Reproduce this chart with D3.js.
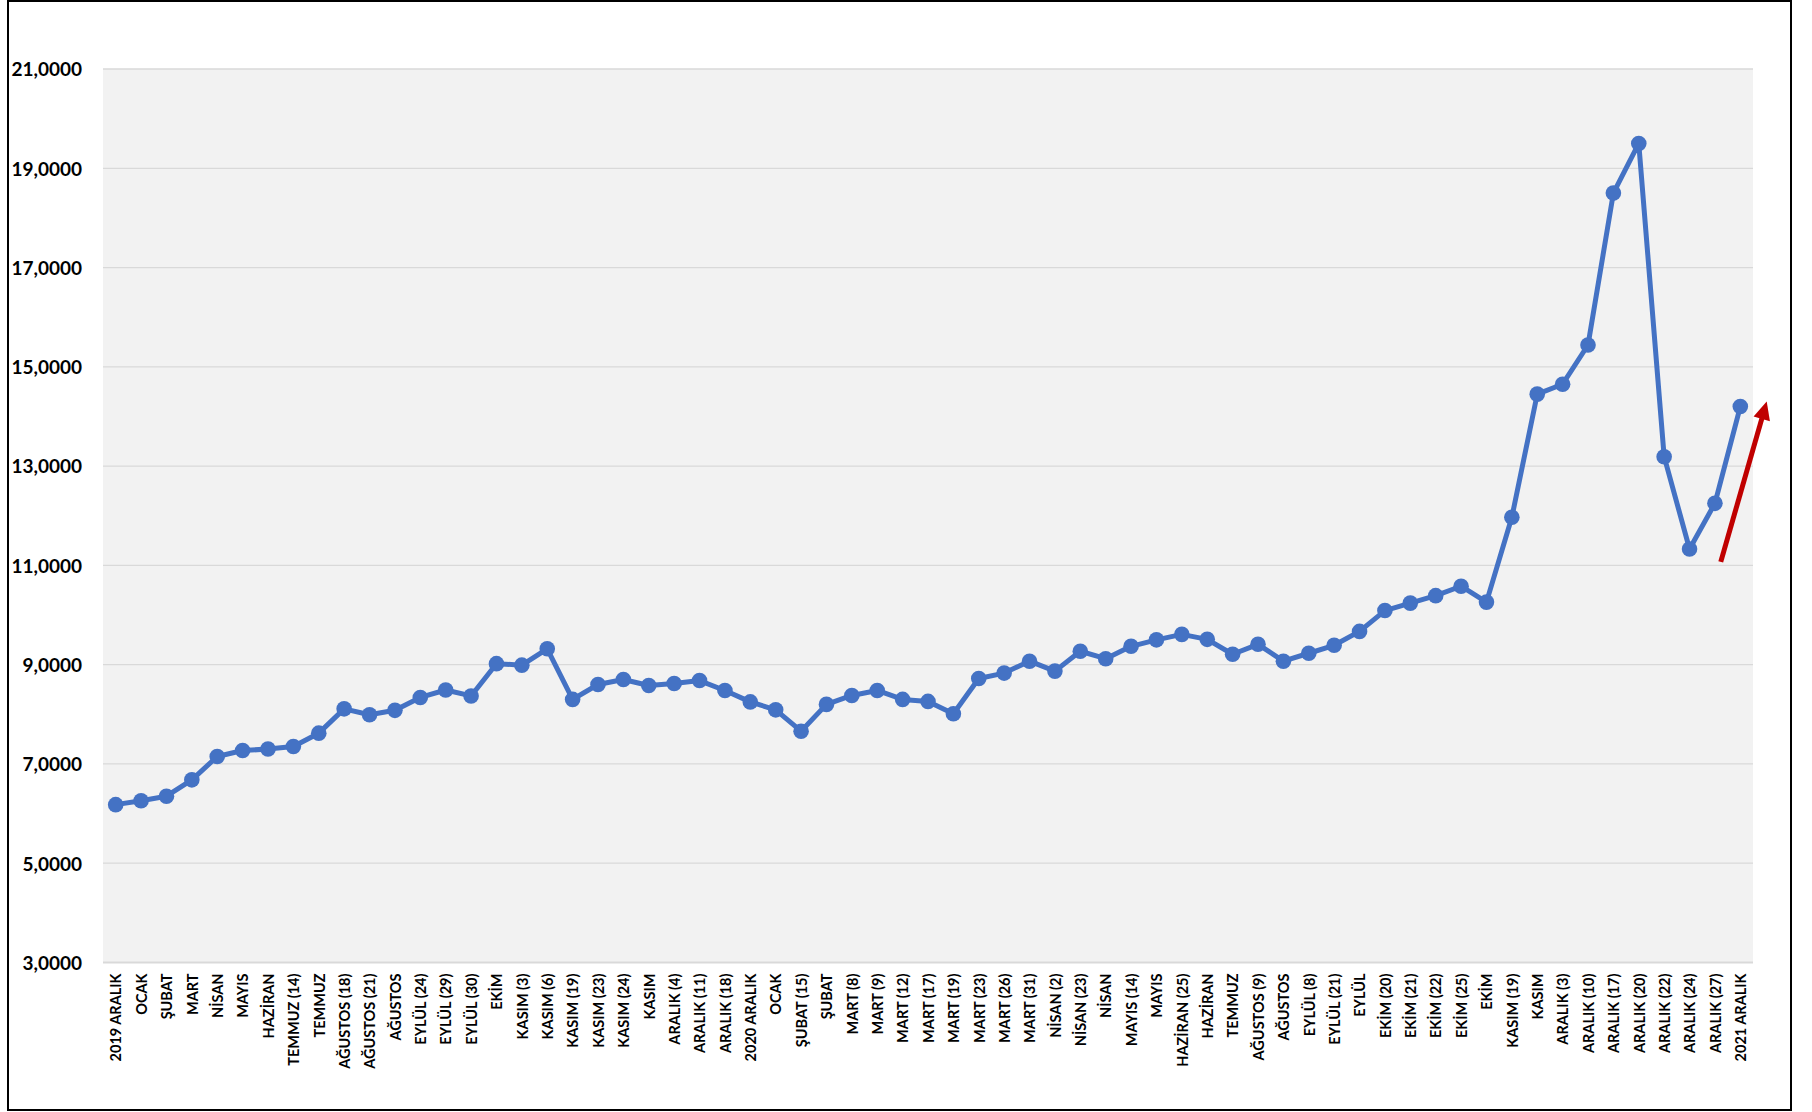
<!DOCTYPE html>
<html>
<head>
<meta charset="utf-8">
<script src="https://cdn.jsdelivr.net/npm/d3@7"></script>
<style>
  html, body { margin: 0; padding: 0; background: #ffffff; }
  svg { display: block; }
  text { font-family: Lato, "Noto Sans", "Liberation Sans", sans-serif; font-weight: 700; fill: #000; }
</style>
</head>
<body>
<svg id="chart" width="1812" height="1112"></svg>
<script>
// ---- data ----
const categories = [
  "2019 ARALIK","OCAK","ŞUBAT","MART","NİSAN","MAYIS","HAZİRAN","TEMMUZ (14)","TEMMUZ",
  "AĞUSTOS (18)","AĞUSTOS (21)","AĞUSTOS","EYLÜL (24)","EYLÜL (29)","EYLÜL (30)","EKİM",
  "KASIM (3)","KASIM (6)","KASIM (19)","KASIM (23)","KASIM (24)","KASIM","ARALIK (4)",
  "ARALIK (11)","ARALIK (18)","2020 ARALIK","OCAK","ŞUBAT (15)","ŞUBAT","MART (8)","MART (9)",
  "MART (12)","MART (17)","MART (19)","MART (23)","MART (26)","MART (31)","NİSAN (2)",
  "NİSAN (23)","NİSAN","MAYIS (14)","MAYIS","HAZİRAN (25)","HAZİRAN","TEMMUZ","AĞUSTOS (9)",
  "AĞUSTOS","EYLÜL (8)","EYLÜL (21)","EYLÜL","EKİM (20)","EKİM (21)","EKİM (22)","EKİM (25)",
  "EKİM","KASIM (19)","KASIM","ARALIK (3)","ARALIK (10)","ARALIK (17)","ARALIK (20)",
  "ARALIK (22)","ARALIK (24)","ARALIK (27)","2021 ARALIK"
];
const values = [
  6.18, 6.26, 6.35, 6.68, 7.15, 7.27, 7.30, 7.35, 7.62,
  8.11, 7.99, 8.08, 8.34, 8.49, 8.37, 9.02,
  8.99, 9.32, 8.30, 8.60, 8.70, 8.58, 8.62,
  8.68, 8.48, 8.25, 8.09, 7.66, 8.20, 8.38, 8.48,
  8.30, 8.26, 8.01, 8.72, 8.83, 9.07, 8.87,
  9.27, 9.12, 9.37, 9.50, 9.61, 9.51, 9.21, 9.41,
  9.07, 9.23, 9.39, 9.67, 10.09, 10.24, 10.39, 10.58,
  10.26, 11.97, 14.45, 14.65, 15.44, 18.50, 19.50,
  13.19, 11.33, 12.25, 14.20
];
const yTicks = [3, 5, 7, 9, 11, 13, 15, 17, 19, 21];
// trend arrow annotation (category position, value)
const arrowFrom = { pos: 63.23, value: 11.07 };
const arrowTo   = { pos: 65.04, value: 14.30 };

// ---- layout ----
const svg = d3.select("#chart");
const plot = { left: 103, right: 1753, top: 69, bottom: 962.5 };

// outer frame
svg.append("rect")
  .attr("x", 8).attr("y", 1).attr("width", 1783).attr("height", 1109)
  .attr("fill", "#ffffff").attr("stroke", "#000").attr("stroke-width", 2);

// plot background
svg.append("rect")
  .attr("x", plot.left).attr("y", plot.top)
  .attr("width", plot.right - plot.left).attr("height", plot.bottom - plot.top)
  .attr("fill", "#F2F2F2");

const idx = d3.range(categories.length);
const x = d3.scalePoint().domain(idx).range([plot.left, plot.right]).padding(0.5);
const y = d3.scaleLinear().domain([3, 21]).range([plot.bottom, plot.top]);
const xc = p => x(0) + p * x.step();

// gridlines
svg.append("g")
  .selectAll("line").data(yTicks.filter(t => t > 3)).join("line")
  .attr("x1", plot.left).attr("x2", plot.right)
  .attr("y1", d => y(d)).attr("y2", d => y(d))
  .attr("stroke", "#D9D9D9").attr("stroke-width", 1.3);

// y axis labels
const fmt = v => d3.format(".4f")(v).replace(".", ",");
const yAxis = d3.axisLeft(y).tickValues(yTicks).tickFormat(fmt).tickSize(0).tickPadding(0);
const yg = svg.append("g").attr("transform", `translate(82,0)`).call(yAxis);
yg.select(".domain").remove();
yg.selectAll("text")
  .attr("font-size", 19).attr("font-family", "Lato, 'Noto Sans', sans-serif")
  .attr("font-weight", 700).attr("fill", "#000").attr("dy", "0.36em");

// x axis
const xAxis = d3.axisBottom(x).tickFormat(i => categories[i]).tickSize(0).tickPadding(0);
const xg = svg.append("g").attr("transform", `translate(0,${plot.bottom})`).call(xAxis);
xg.select(".domain").attr("stroke", "#D9D9D9").attr("stroke-width", 2)
  .attr("d", `M${plot.left},0H${plot.right}`);
xg.selectAll("text")
  .attr("font-size", 14.5).attr("font-family", "Lato, 'Noto Sans', sans-serif")
  .attr("font-weight", 700).attr("fill", "#000")
  .attr("text-anchor", "end")
  .attr("transform", "rotate(-90)")
  .attr("x", -11).attr("y", 0).attr("dy", "0.36em");

// line
const line = d3.line().x((d, i) => x(i)).y(d => y(d));
svg.append("path").datum(values)
  .attr("d", line).attr("fill", "none")
  .attr("stroke", "#4472C4").attr("stroke-width", 5)
  .attr("stroke-linejoin", "round");

// markers
svg.append("g").selectAll("circle").data(values).join("circle")
  .attr("cx", (d, i) => x(i)).attr("cy", d => y(d)).attr("r", 7.8)
  .attr("fill", "#4472C4");

// arrow
const ax1 = xc(arrowFrom.pos), ay1 = y(arrowFrom.value);
const ax2 = xc(arrowTo.pos), ay2 = y(arrowTo.value);
svg.append("line")
  .attr("x1", ax1).attr("y1", ay1)
  .attr("x2", ax1 + (ax2 - ax1) * 0.9).attr("y2", ay1 + (ay2 - ay1) * 0.9)
  .attr("stroke", "#C00000").attr("stroke-width", 5);
svg.append("path")
  .attr("d", (() => {
    const dx = ax2 - ax1, dy = ay2 - ay1, L = Math.hypot(dx, dy);
    const ux = dx / L, uy = dy / L, px = -uy, py = ux;
    const hl = 18, hw = 8.5;
    const bx = ax2 - ux * hl, by = ay2 - uy * hl;
    return `M${ax2},${ay2}L${bx + px * hw},${by + py * hw}L${bx - px * hw},${by - py * hw}Z`;
  })())
  .attr("fill", "#C00000");
</script>
</body>
</html>
